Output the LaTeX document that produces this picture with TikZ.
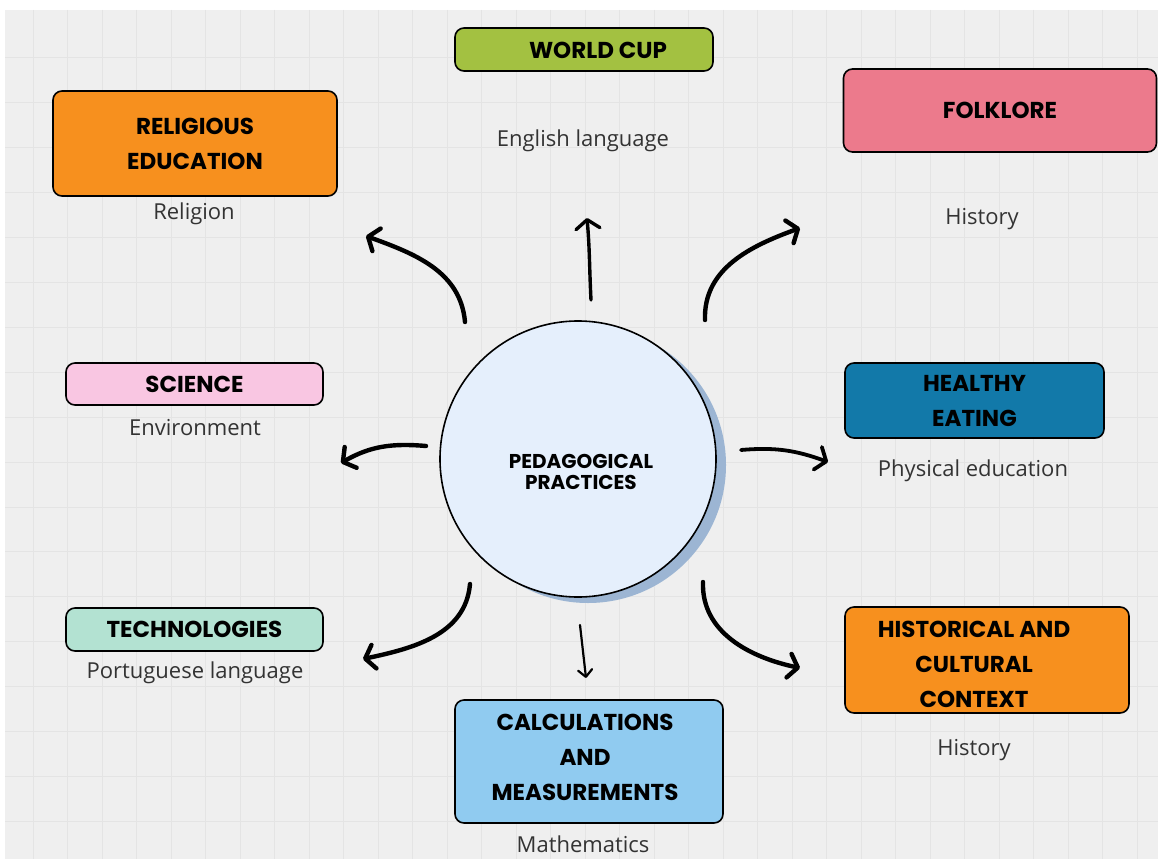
\documentclass[tikz,border=0pt]{standalone}
\usepackage{fontspec}
\usetikzlibrary{arrows.meta}
\newfontfamily\labfont{Open Sans}
\newfontfamily\ttlfont{Poppins}
\definecolor{bgc}{HTML}{EFEFEF}
\definecolor{gridc}{HTML}{E4E4E4}
\definecolor{cgreen}{HTML}{A3C141}
\definecolor{corange}{HTML}{F7901E}
\definecolor{cpink}{HTML}{EC7A8C}
\definecolor{clpink}{HTML}{F9C6E2}
\definecolor{cblue}{HTML}{1279A9}
\definecolor{cmint}{HTML}{B3E2D2}
\definecolor{clblue}{HTML}{90CBF0}
\definecolor{ccircle}{HTML}{E5EFFC}
\definecolor{cshadow}{HTML}{9CB5D3}
\definecolor{labc}{HTML}{333333}
\tikzset{
  topic/.style={draw=black, line width=1.6pt, rounded corners=9pt, inner sep=0pt,
    align=center, font=\ttlfont\bfseries\fontsize{23}{35}\selectfont},
  ttl/.style={align=center, font=\ttlfont\bfseries\fontsize{23}{35}\selectfont},
  subj/.style={font=\labfont\fontsize{22}{26}\selectfont, text=labc},
  curvy/.style={line width=4.4pt, line cap=round, -{Straight Barb[length=9pt,width=24pt,round]}},
}
\begin{document}
\begin{tikzpicture}[x=1pt,y=1pt]
\useasboundingbox (0,0) rectangle (1158,-859);
\fill[white] (0,0) rectangle (1158,-859);
\fill[bgc] (5,-10) rectangle (1158,-859);
\begin{scope}
\clip (5,-10) rectangle (1158,-859);
\foreach \i in {0,...,33} {
  \draw[gridc, line width=1pt] ({33+34.5*\i},-10) -- ({33+34.5*\i},-859);
}
\foreach \j in {0,...,18} {
  \draw[gridc, line width=1pt] (5,{-58-44.9*\j}) -- (1158,{-58-44.9*\j});
}
\end{scope}

% centre
\fill[cshadow] (588,-465) circle (138);
\node[circle, draw=black, line width=1.6pt, fill=ccircle, minimum size=276pt, inner sep=0pt] (hub) at (578,-459) {};
\node[ttl, font=\ttlfont\bfseries\fontsize{20}{21}\selectfont] (hubt) at (581,-472) {PEDAGOGICAL\\PRACTICES};

% boxes
\node[topic, fill=cgreen, minimum width=258pt, minimum height=43pt] (wc) at (584,-49.5) {};
\node[ttl] (wct) at (598,-50) {WORLD CUP};
\node[topic, fill=corange, minimum width=284pt, minimum height=105pt] (re) at (195,-143.5) {RELIGIOUS\\EDUCATION};
\node[topic, fill=cpink, minimum width=313pt, minimum height=83pt] (fo) at (1000,-110.5) {FOLKLORE};
\node[topic, fill=clpink, minimum width=257pt, minimum height=42pt] (sc) at (194.5,-384) {SCIENCE};
\node[topic, fill=cblue, minimum width=259pt, minimum height=75pt] (he) at (974.5,-400.5) {HEALTHY\\EATING};
\node[topic, fill=cmint, minimum width=257pt, minimum height=43pt] (te) at (194.5,-629.5) {TECHNOLOGIES};
\node[topic, fill=clblue, minimum width=268pt, minimum height=123pt] (ca) at (589,-761.5) {};
\node[ttl] (cat) at (585,-757) {CALCULATIONS\\AND\\MEASUREMENTS};
\node[topic, fill=corange, minimum width=284pt, minimum height=106pt] (hi) at (987,-660) {};
\node[ttl] (hit) at (974,-664) {HISTORICAL AND\\CULTURAL\\CONTEXT};

% subject labels
\node[subj] (l1) at (583,-141) {English language};
\node[subj] (l2) at (194,-214) {Religion};
\node[subj] (l3) at (982,-219) {History};
\node[subj] (l4) at (195,-428) {Environment};
\node[subj] (l5) at (973,-471) {Physical education};
\node[subj] (l6) at (195,-673) {Portuguese language};
\node[subj] (l7) at (583,-844) {Mathematics};
\node[subj] (l8) at (974,-750) {History};

% arrow ends
\coordinate (s1) at (465,-322); \coordinate (e1) at (366,-236);
\coordinate (s2) at (591,-300); \coordinate (e2) at (587,-218);
\coordinate (s3) at (705,-320); \coordinate (e3) at (800,-228);
\coordinate (s4) at (426,-446); \coordinate (e4) at (341,-463);
\coordinate (s5) at (741,-450); \coordinate (e5) at (828,-462);
\coordinate (s6) at (470,-584); \coordinate (e6) at (363,-659);
\coordinate (s7) at (580,-625); \coordinate (e7) at (586,-678);
\coordinate (s8) at (703,-582); \coordinate (e8) at (800,-668);

\draw[curvy] (s1) to[out=95,in=-20] (e1);
\draw[curvy, line width=3.4pt] (s2) to[out=93,in=-85] (e2);
\draw[curvy] (s3) to[out=92,in=200] (e3);
\draw[curvy] (s4) to[out=175,in=30] (e4);
\draw[curvy, line width=3.8pt] (s5) to[out=5,in=160] (e5);
\draw[curvy] (s6) to[out=-95,in=12] (e6);
\draw[line width=2.2pt, line cap=round, -{Straight Barb[length=7pt,width=14pt,round]}] (s7) -- (e7);
\draw[curvy] (s8) to[out=-92,in=168] (e8);
\end{tikzpicture}
\end{document}
